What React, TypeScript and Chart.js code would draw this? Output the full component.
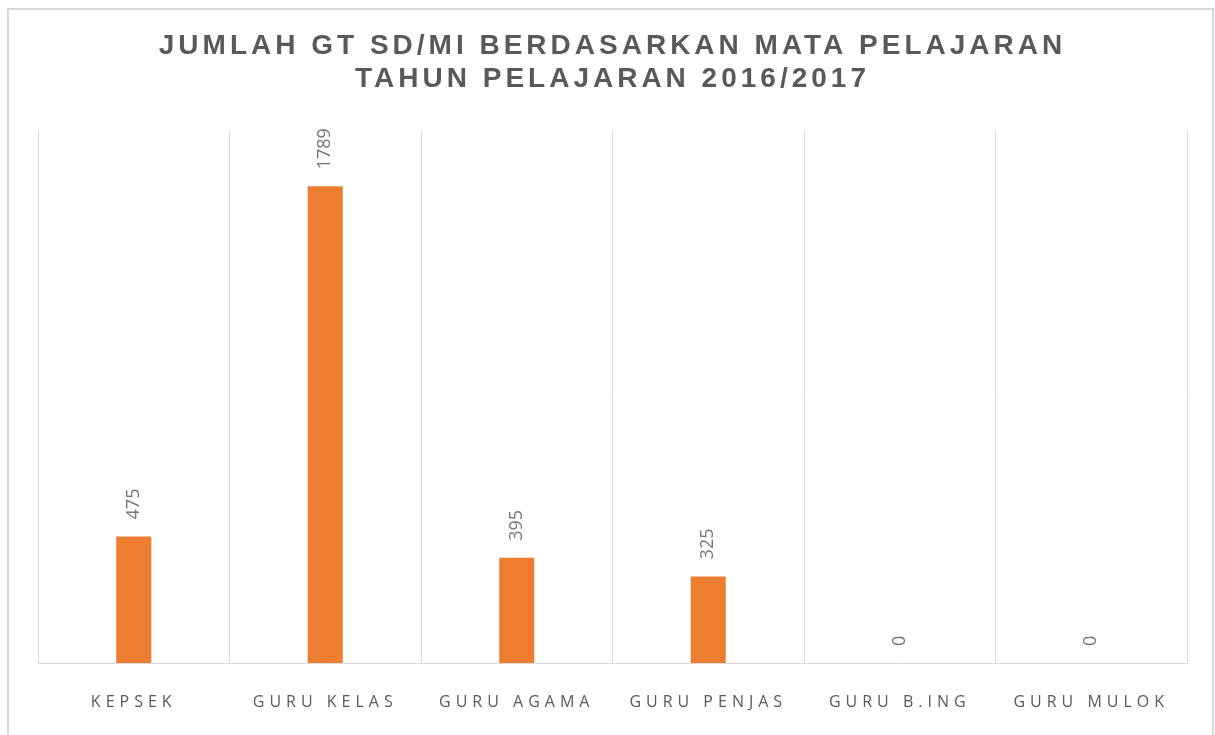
import { useEffect, useRef } from "react";
import { Chart, registerables } from "chart.js";

Chart.register(...registerables);

const categories = ["KEPSEK", "GURU KELAS", "GURU AGAMA", "GURU PENJAS", "GURU B.ING", "GURU MULOK"];
const teacherCounts = [475, 1789, 395, 325, 0, 0];
const titleLines = ["JUMLAH GT SD/MI BERDASARKAN MATA PELAJARAN", "TAHUN PELAJARAN 2016/2017"];
const yMin = 0;
const yMax = 2000;

export default function App() {
  const ref = useRef<HTMLCanvasElement>(null);

  useEffect(() => {
    document.body.style.margin = "0";
    document.body.style.overflow = "hidden";
    const canvas = ref.current;
    if (!canvas) return;

    const decor = {
      id: "decor",
      beforeDraw(chart: any) {
        const ctx = chart.ctx;
        ctx.save();
        ctx.strokeStyle = "#d9d9d9";
        ctx.lineWidth = 2;
        ctx.strokeRect(8, 9, 1205, 820);
        ctx.restore();
        ctx.letterSpacing = "4px";
      },
      beforeDatasetsDraw(chart: any) {
        chart.ctx.letterSpacing = "0px";
      },
      afterDatasetsDraw(chart: any) {
        const ctx = chart.ctx;
        const meta = chart.getDatasetMeta(0);
        ctx.save();
        ctx.letterSpacing = "0px";
        ctx.font = "18px 'Open Sans', sans-serif";
        ctx.fillStyle = "#767676";
        ctx.textAlign = "left";
        ctx.textBaseline = "middle";
        meta.data.forEach((bar: any, i: number) => {
          const p = bar.getProps(["x", "y"], true);
          ctx.save();
          ctx.translate(p.x, p.y - 17);
          ctx.rotate(-Math.PI / 2);
          ctx.fillText(String(teacherCounts[i]), 0, 0);
          ctx.restore();
        });
        ctx.restore();
        ctx.letterSpacing = "5px";
      },
      afterDraw(chart: any) {
        chart.ctx.letterSpacing = "0px";
      },
    };

    const chart = new Chart(canvas, {
      type: "bar",
      data: {
        labels: categories,
        datasets: [
          {
            data: teacherCounts,
            backgroundColor: "#ED7D31",
            borderWidth: 0,
            barPercentage: 0.183,
            categoryPercentage: 1,
          },
        ],
      },
      options: {
        responsive: false,
        animation: false,
        layout: { padding: { top: 10, left: 38, right: 28, bottom: 37.8 } },
        plugins: {
          legend: { display: false },
          tooltip: { enabled: false },
          title: {
            display: true,
            text: titleLines,
            color: "#595959",
            font: { family: "'Liberation Sans', Arial, sans-serif", size: 28, weight: "bold", lineHeight: 1.18 },
            padding: { top: 20, bottom: 34 },
          },
        },
        scales: {
          x: {
            grid: { color: "#d9d9d9", lineWidth: 1, drawTicks: false, offset: true },
            border: { color: "#d9d9d9", width: 1 },
            ticks: {
              z: 1,
              color: "#595959",
              font: { family: "'Open Sans', sans-serif", size: 16 },
              padding: 30,
              maxRotation: 0,
              autoSkip: false,
            },
          },
          y: { display: false, min: yMin, max: yMax },
        },
      },
      plugins: [decor],
    } as any);

    return () => chart.destroy();
  }, []);

  return (
    <div style={{ width: 1215, height: 735, overflow: "hidden" }}>
      <canvas ref={ref} width={1215} height={780} style={{ display: "block" }} />
    </div>
  );
}
